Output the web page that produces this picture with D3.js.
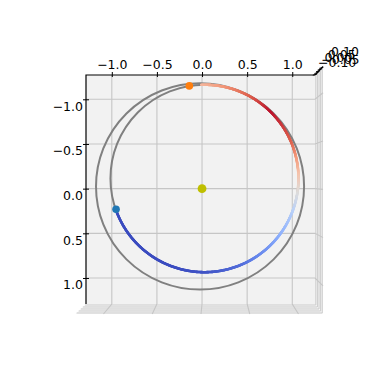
<!DOCTYPE html>
<html>
<head>
<meta charset="utf-8">
<script src="https://cdn.jsdelivr.net/npm/d3@7"></script>
<style>
  body { margin: 0; background: #fff; }
</style>
</head>
<body>
<div id="chart"></div>
<script>
// axis limits and ticks
const xLim = [-1.286, 1.252];
const yLim = [-1.272, 1.291];
const zLim = [-0.125, 0.125];
const xTicks = [-1.0, -0.5, 0.0, 0.5, 1.0];
const yTicks = [-1.0, -0.5, 0.0, 0.5, 1.0];
const zTicks = [-0.10, -0.05, 0.00, 0.05, 0.10];

// orbits (gray): centre and semi-axes
const orbitNames = ["outer", "inner"];
const orbitCx = [-0.022, 0.027];
const orbitCy = [-0.025, -0.114];
const orbitRx = [1.153, 1.042];
const orbitRy = [1.155, 1.049];

// trajectory along the inner orbit: angle (deg) and colour value (coolwarm)
const trajAngle = [-92, -67.5, -45, -22.5, 0, 22.5, 45, 67.5, 90, 112.5, 160.8];
const trajC = [0.66, 0.83, 0.98, 0.87, 0.60, 0.36, 0.20, 0.08, 0.02, 0.0, 0.0];

// bodies
const bodyX = [-0.953, -0.141, 0.0];
const bodyY = [0.231, -1.150, 0.0];
const bodyR = [3.8, 3.8, 4.4];
const bodyColor = ["#1f77b4", "#ff7f0e", "#bfbf00"];

// coolwarm stops
const cwStops = [0, 0.125, 0.25, 0.375, 0.5, 0.625, 0.75, 0.875, 1];
const cwColors = ["#3b4cc0", "#6282ea", "#8db0fe", "#b8d0f9", "#dddcdc", "#f5c4ad", "#f49a7b", "#de604d", "#b40426"];

const W = 389, H = 389;
const svg = d3.select("#chart").append("svg")
    .attr("width", W)
    .attr("height", H)
    .style("font-family", "'DejaVu Sans', sans-serif");

const x = d3.scaleLinear().domain(xLim).range([86, 315]);
const y = d3.scaleLinear().domain(yLim).range([75, 304]);
const zf = d3.scaleLinear().domain(zLim).range([0, 1]);
const coolwarm = d3.scaleLinear().domain(cwStops).range(cwColors).interpolate(d3.interpolateRgb);

const X0 = x(xLim[0]), X1 = x(xLim[1]), Y0 = y(yLim[0]), Y1 = y(yLim[1]);

// perspective of the z levels (panes seen edge-on)
const C = [215, 180], persp = 0.0806;
function P(px, py, f) {
    return [C[0] + (px - C[0]) * (1 + persp * f), C[1] + (py - C[1]) * (1 + persp * f)];
}

const paneFill = "#f2f2f2", gridCol = "#c6c6c6";

// side strips
const bottomStrip = [[X0, Y1], [X1, Y1], P(X1, Y1, 1), P(X0, Y1, 1)];
const rightStrip = [[X1, Y0], [X1, Y1], P(X1, Y1, 1), P(X1, Y0, 1)];
svg.append("polygon").attr("points", bottomStrip.join(" ")).attr("fill", "#f6f6f6");
svg.append("polygon").attr("points", rightStrip.join(" ")).attr("fill", "#f6f6f6");

// main pane
svg.append("rect")
    .attr("x", X0).attr("y", Y0)
    .attr("width", X1 - X0).attr("height", Y1 - Y0)
    .attr("fill", paneFill);

const grid = svg.append("g").attr("stroke", gridCol).attr("stroke-width", 1.1).attr("fill", "none");

// x grid + continuation on bottom strip
xTicks.forEach(t => {
    const b = P(x(t), Y1, 1);
    grid.append("path").attr("d", d3.line()([[x(t), Y0], [x(t), Y1], b]));
});
// y grid + continuation on right strip
yTicks.forEach(t => {
    const b = P(X1, y(t), 1);
    grid.append("path").attr("d", d3.line()([[X0, y(t)], [X1, y(t)], b]));
});
// z grid lines on the strips
zTicks.forEach(t => {
    const f = zf(t);
    grid.append("path").attr("d", d3.line()([P(X0, Y1, f), P(X1, Y1, f), P(X1, Y0, f)]))
        .attr("stroke-width", 0.9);
});

// axis lines
const axisLines = svg.append("g").attr("stroke", "#000").attr("stroke-width", 1.2).attr("fill", "none");
axisLines.append("path").attr("d", d3.line()([[X1, Y0], [X0, Y0], [X0, Y1]]));
axisLines.append("path").attr("d", d3.line()([[X1, Y0], P(X1, Y0, 1)]));

// x axis (top)
const gx = svg.append("g")
    .attr("transform", `translate(0,${Y0})`)
    .call(d3.axisTop(x).tickValues(xTicks).tickFormat(d3.format(".1f")).tickSize(3).tickPadding(3));
gx.select(".domain").remove();
gx.selectAll(".tick line").attr("y1", 2);

// y axis (left)
const gy = svg.append("g")
    .attr("transform", `translate(${X0},0)`)
    .call(d3.axisLeft(y).tickValues(yTicks).tickFormat(d3.format(".1f")).tickSize(3).tickPadding(0));
gy.select(".domain").remove();
gy.selectAll(".tick line").attr("x1", 3);
gy.selectAll(".tick text").attr("y", 7);

[gx, gy].forEach(g => g.attr("font-family", "'DejaVu Sans', sans-serif").attr("font-size", 12.5));
svg.selectAll(".tick text").attr("fill", "#000");
svg.selectAll(".tick line").attr("stroke", "#000");

// z axis ticks and labels (crowded at the corner, as in the original)
const zLabelX = d3.scaleLinear().domain([zTicks[0], zTicks[4]]).range([318, 331]);
const zLabelY = d3.scaleLinear().domain([zTicks[0], zTicks[4]]).range([67, 56]);
const gz = svg.append("g");
zTicks.forEach(t => {
    const p = P(X1, Y0, zf(t));
    gz.append("line")
        .attr("x1", p[0] - 3).attr("y1", p[1] + 1)
        .attr("x2", p[0] + 1).attr("y2", p[1])
        .attr("stroke", "#000").attr("stroke-width", 1);
    gz.append("text")
        .attr("x", zLabelX(t)).attr("y", zLabelY(t))
        .attr("font-size", 12.5)
        .attr("fill", "#000")
        .text(d3.format(".2f")(t));
});

// orbits
svg.append("g").selectAll("ellipse")
    .data(orbitNames)
    .enter()
    .append("ellipse")
    .attr("cx", (d, i) => x(orbitCx[i]))
    .attr("cy", (d, i) => y(orbitCy[i]))
    .attr("rx", (d, i) => x(orbitCx[i] + orbitRx[i]) - x(orbitCx[i]))
    .attr("ry", (d, i) => y(orbitCy[i] + orbitRy[i]) - y(orbitCy[i]))
    .attr("fill", "none")
    .attr("stroke", "#808080")
    .attr("stroke-width", 2);

// trajectory: short coloured pieces along the inner orbit
const k = 1;
const cAt = d3.scaleLinear().domain(trajAngle).range(trajC);
const a0 = trajAngle[0], a1 = trajAngle[trajAngle.length - 1];
const steps = d3.range(a0, a1, 0.5).concat([a1]);
const onOrbit = a => [x(orbitCx[k] + orbitRx[k] * Math.cos(a * Math.PI / 180)),
                      y(orbitCy[k] + orbitRy[k] * Math.sin(a * Math.PI / 180))];
const traj = svg.append("g").attr("fill", "none").attr("stroke-width", 2.6).attr("stroke-linecap", "round");
for (let i = 0; i < steps.length - 1; i++) {
    const p = onOrbit(steps[i]), q = onOrbit(steps[i + 1]);
    traj.append("line")
        .attr("x1", p[0]).attr("y1", p[1])
        .attr("x2", q[0]).attr("y2", q[1])
        .attr("stroke", coolwarm(cAt((steps[i] + steps[i + 1]) / 2)));
}

// bodies
svg.append("g").selectAll("circle")
    .data(d3.range(bodyX.length))
    .enter()
    .append("circle")
    .attr("cx", i => x(bodyX[i]))
    .attr("cy", i => y(bodyY[i]))
    .attr("r", i => bodyR[i])
    .attr("fill", i => bodyColor[i]);
</script>
</body>
</html>
